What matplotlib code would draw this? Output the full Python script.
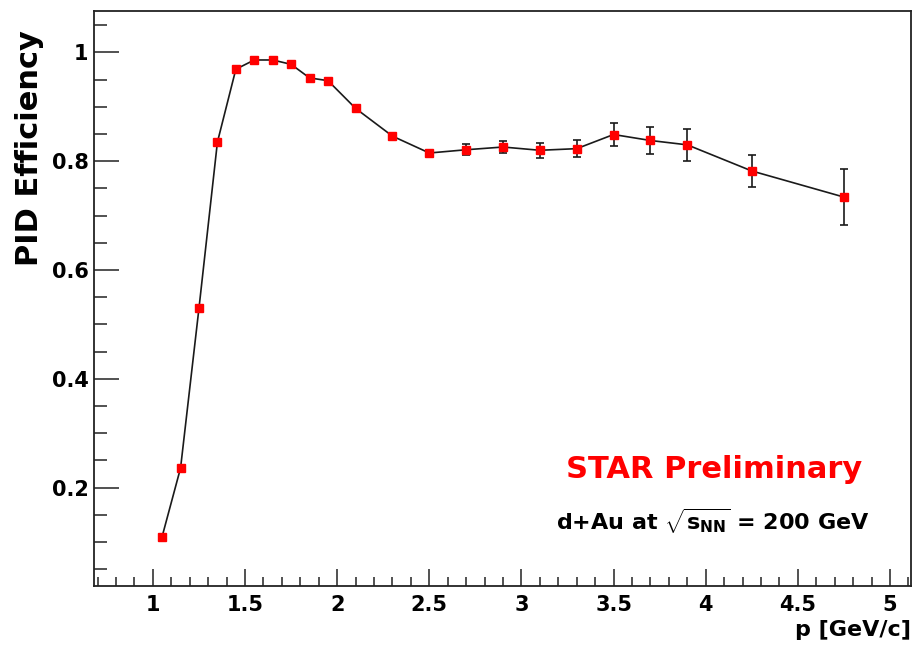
import matplotlib
matplotlib.use("Agg")
import matplotlib.pyplot as plt
from matplotlib.ticker import MultipleLocator

# Momentum bins [GeV/c] and PID efficiency with statistical errors
momentum = [1.05, 1.15, 1.25, 1.35, 1.45, 1.55, 1.65, 1.75, 1.85, 1.95,
            2.1, 2.3, 2.5, 2.7, 2.9, 3.1, 3.3, 3.5, 3.7, 3.9, 4.25, 4.75]
efficiency = [0.110, 0.236, 0.530, 0.835, 0.969, 0.986, 0.986, 0.978, 0.953, 0.948,
              0.897, 0.846, 0.815, 0.821, 0.826, 0.820, 0.823, 0.849, 0.838, 0.830,
              0.782, 0.734]
eff_error = [0.001, 0.002, 0.002, 0.002, 0.002, 0.002, 0.002, 0.003, 0.003, 0.003,
             0.003, 0.004, 0.005, 0.010, 0.011, 0.014, 0.016, 0.021, 0.024, 0.029,
             0.029, 0.052]

x_ticks = [1, 1.5, 2, 2.5, 3, 3.5, 4, 4.5, 5]
x_ticklabels = ["1", "1.5", "2", "2.5", "3", "3.5", "4", "4.5", "5"]
y_ticks = [0.2, 0.4, 0.6, 0.8, 1.0]
y_ticklabels = ["0.2", "0.4", "0.6", "0.8", "1"]

plt.rcParams["font.family"] = ["DejaVu Sans"]
plt.rcParams["font.weight"] = "bold"
plt.rcParams["mathtext.fontset"] = "custom"
plt.rcParams["mathtext.rm"] = "DejaVu Sans:bold"
plt.rcParams["mathtext.it"] = "DejaVu Sans:bold"
plt.rcParams["mathtext.bf"] = "DejaVu Sans:bold"

fig = plt.figure(figsize=(9.14, 6.48), dpi=100)
ax = fig.add_axes([0.1028, 0.0961, 0.8939, 0.8869])

ax.errorbar(momentum, efficiency, yerr=eff_error, color="#1a1a1a", lw=1.2,
            elinewidth=1.2, capsize=3, capthick=1.2,
            marker="s", markersize=6.2, markerfacecolor="#ff0000",
            markeredgecolor="#ff0000", zorder=3)

ax.set_xlim(0.68, 5.114)
ax.set_ylim(0.0196, 1.076)

ax.set_xticks(x_ticks)
ax.set_xticklabels(x_ticklabels)
ax.set_yticks(y_ticks)
ax.set_yticklabels(y_ticklabels)
ax.xaxis.set_minor_locator(MultipleLocator(0.1))
ax.yaxis.set_minor_locator(MultipleLocator(0.05))

ax.tick_params(axis="both", which="both", direction="in", color="#222222",
               top=False, right=False, width=1.1, labelsize=15)
ax.tick_params(axis="y", which="major", length=18, pad=4)
ax.tick_params(axis="y", which="minor", length=9)
ax.tick_params(axis="x", which="major", length=12.5, pad=7)
ax.tick_params(axis="x", which="minor", length=6.5)
for lbl in ax.get_xticklabels() + ax.get_yticklabels():
    lbl.set_fontweight("bold")

for side in ax.spines.values():
    side.set_linewidth(1.3)
    side.set_color("#222222")

fig.text(0.9967, 1 - 630 / 648, "p [GeV/c]", ha="right", va="center",
         fontsize=16, fontweight="bold")
fig.text(30 / 914, 1 - 30 / 648, "PID Efficiency", rotation=90, ha="center",
         va="top", fontsize=22, fontweight="bold")

ax.text(714 / 914, 1 - 470 / 648, "STAR Preliminary", transform=fig.transFigure,
        ha="center", va="center", color="#ff0000", fontsize=22, fontweight="bold")
ax.text(713 / 914, 1 - 521 / 648, r"d+Au at $\sqrt{s_{NN}}$ = 200 GeV",
        transform=fig.transFigure, ha="center", va="center", color="black",
        fontsize=16, fontweight="bold")

fig.savefig("out.png", dpi=100)
